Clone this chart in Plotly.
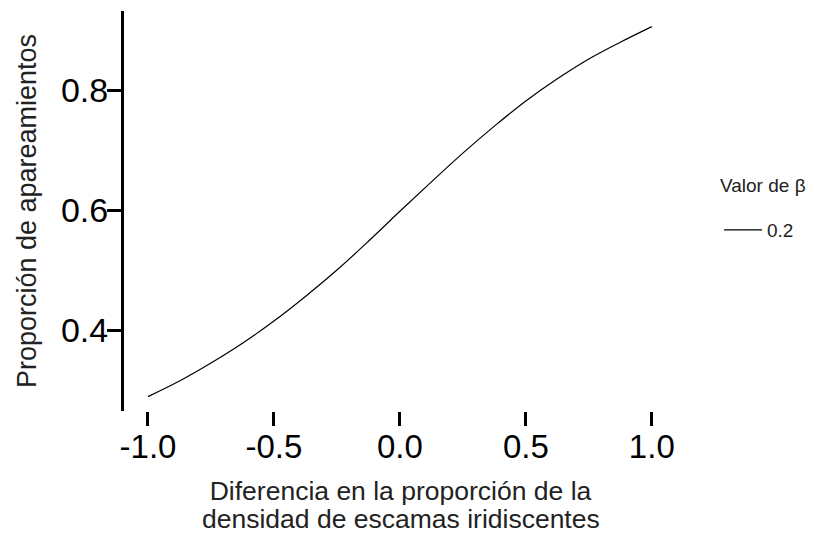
import plotly.graph_objects as go

# Difference in iridescent-scale density proportion (x) and mating proportion (y)
diferencia = [-1.0, -0.875, -0.75, -0.625, -0.5, -0.375, -0.25, -0.125, 0.0,
              0.125, 0.25, 0.375, 0.5, 0.625, 0.75, 0.875, 1.0]
proporcion = [0.289, 0.315, 0.345, 0.378, 0.415, 0.456, 0.500, 0.548, 0.598,
              0.647, 0.695, 0.740, 0.782, 0.819, 0.852, 0.880, 0.906]
beta_label = "0.2"

x_ticks = [-1.0, -0.5, 0.0, 0.5, 1.0]
y_ticks = [0.4, 0.6, 0.8]

FONT = "Liberation Sans, Arial, sans-serif"
TITLE_COLOR = "#222222"

fig = go.Figure()
fig.add_trace(go.Scatter(
    x=diferencia, y=proporcion, mode="lines", name=beta_label,
    line=dict(color="black", width=1.2, shape="spline"),
))

fig.update_layout(
    width=814, height=533,
    margin=dict(l=124, r=137, t=11, b=122, autoexpand=False),
    paper_bgcolor="white", plot_bgcolor="white",
    font=dict(family=FONT, color="black"),
    showlegend=True,
    legend=dict(
        font=dict(size=19, color=TITLE_COLOR),
        x=1.076, xanchor="left", y=0.4525, yanchor="middle",
        bgcolor="rgba(0,0,0,0)", itemwidth=38,
    ),
    xaxis=dict(
        range=[-1.0952, 1.1], showgrid=False, zeroline=False, showline=False,
        automargin=False,
        tickmode="array", tickvals=x_ticks, ticktext=[f"{v:.1f}" for v in x_ticks],
        ticks="outside", ticklen=14, tickwidth=3, tickcolor="black",
        tickfont=dict(size=33, color="black"), ticklabelstandoff=-8,
        title=dict(text="Diferencia en la proporción de la",
                   font=dict(size=26.5, color=TITLE_COLOR), standoff=17),
    ),
    yaxis=dict(
        range=[0.265, 0.932], showgrid=False, zeroline=False,
        automargin=False,
        showline=True, linewidth=3, linecolor="black",
        tickmode="array", tickvals=y_ticks, ticktext=[f"{v:.1f}" for v in y_ticks],
        ticks="outside", ticklen=14, tickwidth=3, tickcolor="black",
        tickfont=dict(size=34, color="black"), ticklabelstandoff=-8,
        title=dict(text="Proporción de apareamientos",
                   font=dict(size=27, color=TITLE_COLOR), standoff=17),
    ),
    annotations=[
        # legend heading
        dict(text="Valor de β", xref="paper", yref="paper",
             x=(718 - 124) / 553, y=(411 - 185) / 400,
             xanchor="left", yanchor="middle", showarrow=False,
             font=dict(size=19, color=TITLE_COLOR)),
        # second line of the x-axis title
        dict(text="densidad de escamas iridiscentes", xref="paper", yref="paper",
             x=0.5, y=(411 - 519) / 400, xanchor="center", yanchor="middle",
             showarrow=False, font=dict(size=26.5, color=TITLE_COLOR)),
    ],
)

fig.write_html("out.html")
